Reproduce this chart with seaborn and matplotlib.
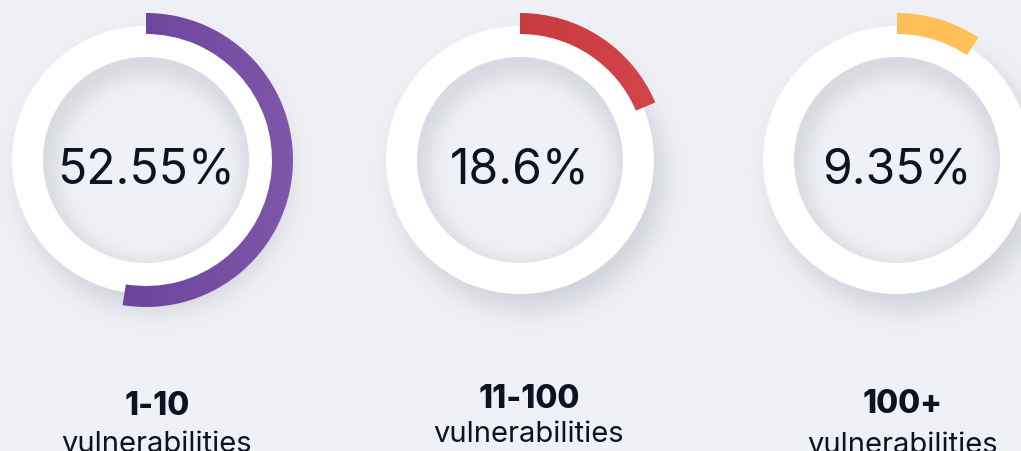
import numpy as np
import matplotlib
matplotlib.use("Agg")
import matplotlib.pyplot as plt
import seaborn as sns

# Share of assets by number of open vulnerabilities
categories = ["1-10", "11-100", "100+"]
shares = [52.55, 18.6, 9.35]
value_labels = ["52.55%", "18.6%", "9.35%"]
subtitle = "vulnerabilities"
arc_colors = [("#5f3592", "#7e57aa"), ("#c12d37", "#d2464a"), ("#ffbd52", "#ffc25c")]

sns.set_theme(style="white")
plt.rcParams["font.family"] = ["Inter", "DejaVu Sans"]

W, H = 1021, 452
BG = "#f0f1f6"
INK = "#0c1322"

# layout in pixel units (y measured from the top)
centers = [(146, 161), (520, 161), (897, 161)]
ring_outer, ring_inner = 134, 103
arc_outer, arc_width = 147, 21
value_baseline = 183
cat_pos = [(157, 415), (529, 408), (903, 413)]
sub_pos = [(157, 452), (529, 442), (903, 453)]

fig = plt.figure(figsize=(W / 100, H / 100), dpi=100, facecolor=BG)
ax = fig.add_axes([0, 0, 1, 1])
ax.set_facecolor(BG)

# soft shadows: drop shadow outside each ring, inset shadow inside each hole
yy, xx = np.mgrid[0:H, 0:W] + 0.5
alpha = np.zeros((H, W))
for cx, cy in centers:
    d = np.hypot(xx - cx, yy - cy)
    d_drop = np.hypot(xx - (cx + 9), yy - (cy + 15))
    drop = 0.22 * 0.5 * (1 - np.tanh((d_drop - ring_outer) / 16))
    drop *= d > ring_inner + 2
    d_in = np.hypot(xx - (cx + 3), yy - (cy + 9))
    inset = 0.17 * 0.5 * (1 + np.tanh((d_in - (ring_inner - 10)) / 11))
    inset *= d < ring_inner + 2
    alpha = np.maximum(alpha, np.maximum(drop, inset))
shadow = np.zeros((H, W, 4))
shadow[..., :3] = (0.36, 0.38, 0.46)
shadow[..., 3] = alpha
ax.imshow(shadow, extent=(0, W, 0, H), origin="upper", zorder=1, interpolation="bilinear")

for i, (cx, cy) in enumerate(centers):
    c = (cx, H - cy)
    # white track
    track, _ = ax.pie([1], radius=ring_outer, center=c, colors=["white"],
                      wedgeprops=dict(width=ring_outer - ring_inner, linewidth=0), frame=True)
    for w in track:
        w.set_zorder(2)
    # value arc, clockwise from twelve o'clock
    wedges, _ = ax.pie([shares[i], 100 - shares[i]], radius=arc_outer, center=c,
                       startangle=90, counterclock=False,
                       colors=[arc_colors[i][0], (0, 0, 0, 0)],
                       wedgeprops=dict(width=arc_width, linewidth=0), frame=True)
    arc = wedges[0]
    arc.set_zorder(3)
    arc.set_alpha(0)
    cmap = sns.blend_palette(list(arc_colors[i]), as_cmap=True)
    grad = np.linspace(0, 1, 256)[None, :]
    img = ax.imshow(grad, cmap=cmap, aspect="auto", zorder=3,
                    extent=(cx - arc_outer, cx + arc_outer, H - cy - arc_outer, H - cy + arc_outer))
    img.set_clip_path(arc)

    ax.text(cx, H - value_baseline, value_labels[i], ha="center", va="baseline",
            fontsize=34.5, color=INK, zorder=5)
    ax.text(cat_pos[i][0], H - cat_pos[i][1], categories[i], ha="center", va="baseline",
            fontsize=23, fontweight="heavy", color=INK, zorder=5)
    ax.text(sub_pos[i][0], H - sub_pos[i][1], subtitle, ha="center", va="baseline",
            fontsize=21, color=INK, zorder=5)

ax.set_xlim(0, W)
ax.set_ylim(0, H)
ax.set_aspect("equal")
ax.axis("off")
fig.savefig("out.png", dpi=100, facecolor=BG)
